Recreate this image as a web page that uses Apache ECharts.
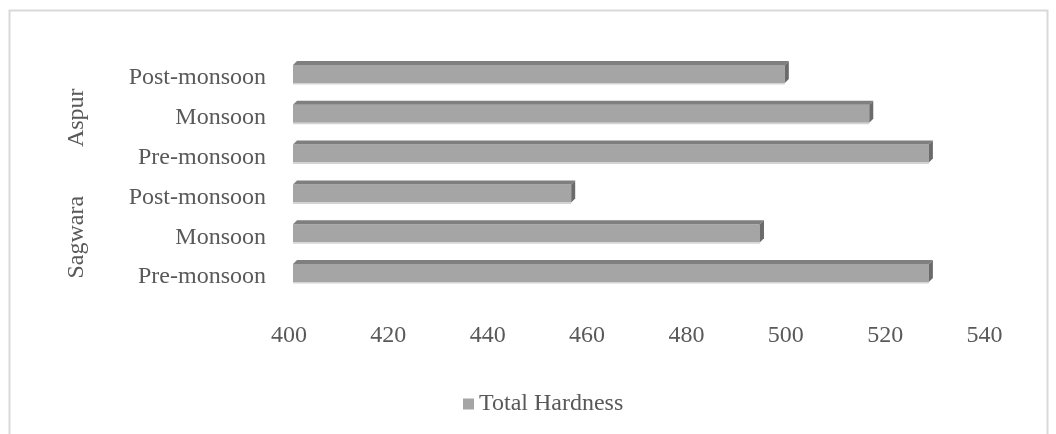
<!DOCTYPE html>
<html>
<head>
<meta charset="utf-8">
<script src="https://cdn.jsdelivr.net/npm/echarts@6/dist/echarts.min.js"></script>
<style>
  html, body { margin: 0; padding: 0; background: #ffffff; }
  #chart { width: 1056px; height: 434px; }
</style>
</head>
<body>
<div id="chart"></div>
<script>
// Sites and seasons (bottom to top on the category axis)
const sites = ['Sagwara', 'Aspur'];
const seasons = ['Pre-monsoon', 'Monsoon', 'Post-monsoon'];

// Total hardness per season
const hardnessSagwara = [528, 494, 456];
const hardnessAspur = [528, 516, 499];

// Value axis ticks
const xMin = 400;
const xMax = 540;
const xStep = 20;

const seriesName = 'Total Hardness';

// One category per site/season pair
const categories = [];
const values = [];
[[sites[0], hardnessSagwara], [sites[1], hardnessAspur]].forEach(function (pair) {
  seasons.forEach(function (s, i) {
    categories.push(pair[0] + '|' + s);
    values.push(pair[1][i]);
  });
});
const barData = values.map(function (v, i) { return [v, i]; });

const FONT = 'Liberation Serif, Times New Roman, serif';
const TEXT = '#595959';

// Bevelled bar: front face, top face and right side face
function renderBar(params, api) {
  const idx = api.value(1);
  const v = api.value(0);
  const start = api.coord([xMin, idx]);
  const end = api.coord([v, idx]);
  const d = 4;
  const h = 18;
  const x0 = start[0] + d;
  const x1 = end[0] + d;
  const yc = start[1] - d;
  const top = yc - h / 2;
  const bot = yc + h / 2;
  return {
    type: 'group',
    children: [
      { type: 'rect', shape: { x: x0, y: top, width: x1 - x0, height: h }, style: { fill: '#a5a5a5' } },
      { type: 'line', shape: { x1: x0, y1: bot + 0.75, x2: x1, y2: bot + 0.75 }, style: { stroke: '#d3d3d3', lineWidth: 1.5 } },
      { type: 'polygon', shape: { points: [[x0, top], [x1, top], [x1 + d, top - d], [x0 + d, top - d]] }, style: { fill: '#7f7f7f' } },
      { type: 'polygon', shape: { points: [[x1, top], [x1 + d, top - d], [x1 + d, bot - d], [x1, bot]] }, style: { fill: '#6b6b6b' } }
    ]
  };
}

const chart = echarts.init(document.getElementById('chart'), null, { renderer: 'canvas' });

chart.setOption({
  animation: false,
  backgroundColor: '#ffffff',
  graphic: [{
    type: 'rect',
    shape: { x: 9.5, y: 10.5, width: 1038, height: 460 },
    style: { fill: 'none', stroke: '#d9d9d9', lineWidth: 2 },
    silent: true
  }],
  grid: { left: 289, right: 71.5, top: 58, bottom: 137, containLabel: false },
  legend: {
    data: [{ name: seriesName, icon: 'rect', itemStyle: { color: '#a5a5a5' } }],
    left: 458,
    top: 387,
    itemWidth: 11,
    itemHeight: 11,
    textStyle: { fontFamily: FONT, fontSize: 24, color: TEXT }
  },
  xAxis: {
    type: 'value',
    min: xMin,
    max: xMax,
    interval: xStep,
    axisLine: { show: false },
    axisTick: { show: false },
    splitLine: { show: false },
    axisLabel: { margin: 27, fontFamily: FONT, fontSize: 24, color: TEXT }
  },
  yAxis: [{
    type: 'category',
    data: categories,
    axisLine: { show: false },
    axisTick: { show: false },
    splitLine: { show: false },
    axisLabel: {
      margin: 23,
      fontFamily: FONT, fontSize: 24, color: TEXT,
      formatter: function (val) { return val.split('|')[1]; }
    }
  }, {
    type: 'category',
    position: 'left',
    data: sites,
    axisLine: { show: false },
    axisTick: { show: false },
    splitLine: { show: false },
    axisLabel: {
      rotate: 90,
      margin: 200,
      fontFamily: FONT, fontSize: 24, color: TEXT
    }
  }],
  series: [{
    name: seriesName,
    type: 'custom',
    renderItem: renderBar,
    itemStyle: { color: '#a5a5a5' },
    encode: { x: 0, y: 1 },
    data: barData
  }]
});
</script>
</body>
</html>
